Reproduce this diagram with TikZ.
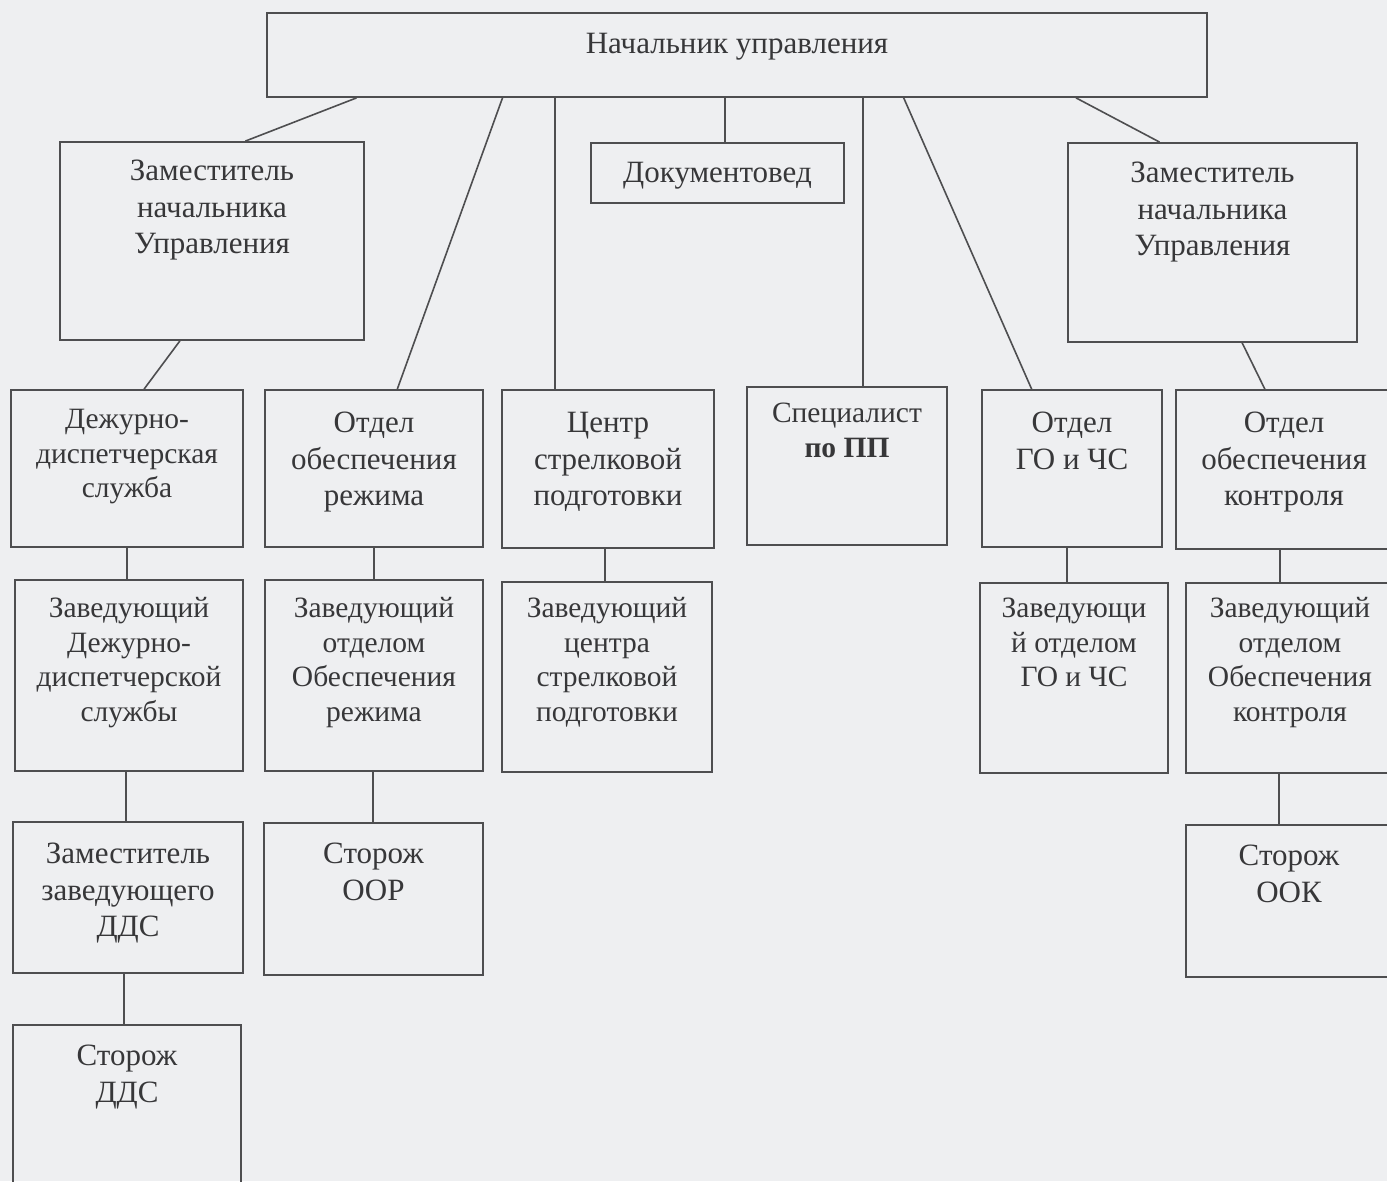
\documentclass[tikz,border=0pt]{standalone}
\usepackage{fontspec}
\setmainfont{Liberation Serif}
\usetikzlibrary{calc}

\definecolor{paper}{RGB}{238,239,241}
\definecolor{inkline}{RGB}{78,78,80}
\definecolor{inktext}{RGB}{55,55,57}

\tikzset{
  unit/.style={draw=inkline,line width=1.8pt,inner sep=0pt,minimum width=#1},
  post/.style={inner sep=0pt,align=center,text=inktext,font=\fontsize{31}{36.5}\selectfont},
  small/.style={font=\fontsize{29.5}{34.5}\selectfont},
  link/.style={draw=inkline,line width=1.6pt}
}

\begin{document}
\begin{tikzpicture}[x=1pt,y=-1pt]
\path[use as bounding box,fill=paper] (0,0) rectangle (1387,1181);
\clip (0,0) rectangle (1387,1181);

% top level
\node[unit=940pt,minimum height=84pt] (head) at (737,55) {};
\node[post,below=21pt] (head-t) at (head.north) {Начальник управления};

\node[unit=304pt,minimum height=198pt] (dep1) at (212,241) {};
\node[post,below=19pt] (dep1-t) at (dep1.north) {Заместитель\\начальника\\Управления};
\node[unit=253pt,minimum height=60pt] (doc) at (717.5,173) {};
\node[post,below=20pt] (doc-t) at (doc.north) {Документовед};
\node[unit=289pt,minimum height=199pt] (dep2) at (1212.5,242.5) {};
\node[post,below=20pt] (dep2-t) at (dep2.north) {Заместитель\\начальника\\Управления};

% departments
\node[unit=232pt,minimum height=157pt] (dds) at (127,468.5) {};
\node[post,small,below=20pt] (dds-t) at (dds.north) {Дежурно-\\диспетчерская\\служба};
\node[unit=218pt,minimum height=157pt] (oor) at (374,468.5) {};
\node[post,below=23pt] (oor-t) at (oor.north) {Отдел\\обеспечения\\режима};
\node[unit=212pt,minimum height=158pt] (csp) at (608,469) {};
\node[post,below=23pt] (csp-t) at (csp.north) {Центр\\стрелковой\\подготовки};
\node[unit=200pt,minimum height=158pt] (spec) at (847,466) {};
\node[post,small,below=17pt] (spec-t) at (spec.north) {Специалист\\\textbf{по ПП}};
\node[unit=180pt,minimum height=157pt] (gochs) at (1072,468.5) {};
\node[post,below=23pt] (gochs-t) at (gochs.north) {Отдел\\ГО и ЧС};
\node[unit=216pt,minimum height=159pt] (ook) at (1284,469.5) {};
\node[post,below=23pt] (ook-t) at (ook.north) {Отдел\\обеспечения\\контроля};

% heads of departments
\node[unit=228pt,minimum height=191pt] (zdds) at (129,675.5) {};
\node[post,small,below=18pt] (zdds-t) at (zdds.north) {Заведующий\\Дежурно-\\диспетчерской\\службы};
\node[unit=218pt,minimum height=191pt] (zoor) at (374,675.5) {};
\node[post,small,below=18pt] (zoor-t) at (zoor.north) {Заведующий\\отделом\\Обеспечения\\режима};
\node[unit=210pt,minimum height=190pt] (zcsp) at (607,677) {};
\node[post,small,below=16pt] (zcsp-t) at (zcsp.north) {Заведующий\\центра\\стрелковой\\подготовки};
\node[unit=188pt,minimum height=190pt] (zgo) at (1074,678) {};
\node[post,small,below=16pt] (zgo-t) at (zgo.north) {Заведующи\\й отделом\\ГО и ЧС};
\node[unit=208pt,minimum height=190pt] (zook) at (1290,678) {};
\node[post,small,below=15pt] (zook-t) at (zook.north) {Заведующий\\отделом\\Обеспечения\\контроля};

% lower staff
\node[unit=230pt,minimum height=151pt] (mdds) at (128,897.5) {};
\node[post,below=22pt] (mdds-t) at (mdds.north) {Заместитель\\заведующего\\ДДС};
\node[unit=219pt,minimum height=152pt] (soor) at (373.5,899) {};
\node[post,below=21pt] (soor-t) at (soor.north) {Сторож\\ООР};
\node[unit=206pt,minimum height=152pt] (sook) at (1289,901) {};
\node[post,below=21pt] (sook-t) at (sook.north) {Сторож\\ООК};
\node[unit=228pt,minimum height=170pt] (sdds) at (127,1110) {};
\node[post,below=21pt] (sdds-t) at (sdds.north) {Сторож\\ДДС};

% links from the head
\draw[link] ($(head.south west)!0.096!(head.south east)$) -- ($(dep1.north west)!0.609!(dep1.north east)$);
\draw[link] ($(head.south west)!0.251!(head.south east)$) -- ($(oor.north west)!0.606!(oor.north east)$);
\draw[link] ($(head.south west)!0.307!(head.south east)$) coordinate (h3) -- (h3 |- csp.north);
\draw[link] ($(head.south west)!0.487!(head.south east)$) coordinate (h4) -- (h4 |- doc.north);
\draw[link] ($(head.south west)!0.634!(head.south east)$) coordinate (h5) -- (h5 |- spec.north);
\draw[link] ($(head.south west)!0.677!(head.south east)$) -- ($(gochs.north west)!0.278!(gochs.north east)$);
\draw[link] ($(head.south west)!0.860!(head.south east)$) -- ($(dep2.north west)!0.318!(dep2.north east)$);
\draw[link] ($(dep1.south west)!0.395!(dep1.south east)$) -- ($(dds.north west)!0.573!(dds.north east)$);
\draw[link] ($(dep2.south west)!0.602!(dep2.south east)$) -- ($(ook.north west)!0.412!(ook.north east)$);

% vertical chains
\draw[link] (dds.south) -- (dds.south |- zdds.north);
\draw[link] (zdds.south) ++(-3,0) coordinate (z1) -- (z1 |- mdds.north);
\draw[link] (mdds.south) ++(-4,0) coordinate (z2) -- (z2 |- sdds.north);
\draw[link] (oor.south) -- (oor.south |- zoor.north);
\draw[link] (zoor.south) ++(-1,0) coordinate (z3) -- (z3 |- soor.north);
\draw[link] (csp.south) ++(-3,0) coordinate (z4) -- (z4 |- zcsp.north);
\draw[link] (gochs.south) ++(-5,0) coordinate (z5) -- (z5 |- zgo.north);
\draw[link] (ook.south) ++(-4,0) coordinate (z6) -- (z6 |- zook.north);
\draw[link] (zook.south) ++(-11,0) coordinate (z7) -- (z7 |- sook.north);
\end{tikzpicture}
\end{document}
